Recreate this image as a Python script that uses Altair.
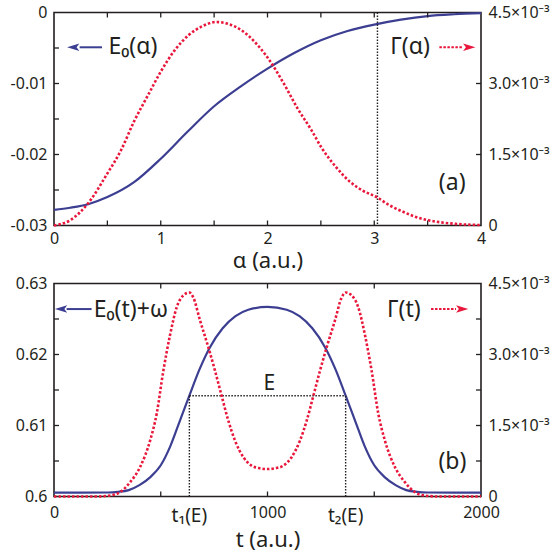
import altair as alt
import pandas as pd

# ---------------- panel (a) ----------------
alpha_E0 = [0.0, 0.15, 0.32, 0.5, 0.75, 1.0, 1.25, 1.5, 1.75, 2.0, 2.25, 2.5,
            2.75, 3.0, 3.25, 3.5, 3.75, 4.0]
E0_alpha = [-0.0278, -0.0275, -0.0270, -0.0260, -0.0239, -0.0206, -0.0168,
            -0.0132, -0.0104, -0.0079, -0.0057, -0.0039, -0.0026, -0.0017,
            -0.0010, -0.0005, -0.00025, -0.0001]

alpha_G = [0.0, 0.15, 0.32, 0.5, 0.63, 0.75, 0.88, 1.0, 1.13, 1.26, 1.38, 1.52,
           1.63, 1.76, 1.88, 2.0, 2.16, 2.28, 2.41, 2.51, 2.64, 2.77, 2.89,
           3.03, 3.14, 3.27, 3.39, 3.51, 3.76, 4.0]
Gamma_alpha = [0, 0.11, 0.47, 1.1, 1.6, 2.2, 2.75, 3.25, 3.7, 4.02, 4.2, 4.3,
               4.26, 4.12, 3.88, 3.55, 2.97, 2.48, 2.02, 1.63, 1.24, 0.93, 0.74,
               0.59, 0.43, 0.29, 0.18, 0.11, 0.035, 0.01]  # x 1e-3
alpha_star = [3.03]

# ---------------- panel (b) ----------------
t_E0 = [0, 250, 300, 350, 400, 450, 500, 545, 590, 634, 680, 730, 790, 850, 910,
        1000, 1090, 1150, 1210, 1270, 1320, 1366, 1410, 1455, 1500, 1550, 1600,
        1650, 1700, 1750, 2000]
E0w_t = [0.60055, 0.60056, 0.60065, 0.6009, 0.6016, 0.6027, 0.6044, 0.6071,
         0.6107, 0.6142, 0.6178, 0.6210, 0.6237, 0.6254, 0.6263, 0.6267,
         0.6263, 0.6254, 0.6237, 0.6210, 0.6178, 0.6142, 0.6107, 0.6071,
         0.6044, 0.6027, 0.6016, 0.6009, 0.60065, 0.60056, 0.60055]

t_G = [0, 200, 262, 309, 356, 403, 450, 481, 512, 543, 575, 606, 634, 653, 684,
       723, 754, 785, 816, 848, 887, 926, 960, 1000, 1040, 1074, 1113, 1152,
       1184, 1215, 1246, 1277, 1316, 1347, 1366, 1394, 1425, 1457, 1488, 1519,
       1550, 1597, 1644, 1691, 1738, 1800, 2000]
Gamma_t = [0, 0.0, 0.02, 0.09, 0.30, 0.62, 1.18, 1.75, 2.65, 3.40, 4.0, 4.25,
           4.31, 4.2, 3.72, 3.15, 2.66, 2.13, 1.61, 1.18, 0.83, 0.65, 0.6, 0.58,
           0.6, 0.65, 0.83, 1.18, 1.61, 2.13, 2.66, 3.15, 3.72, 4.2, 4.31, 4.25,
           4.0, 3.40, 2.65, 1.75, 1.18, 0.62, 0.30, 0.09, 0.02, 0.0, 0]  # x 1e-3
t_marks = [634, 1366]
t_labels = ["t\u2081(E)", "t\u2082(E)"]
E_level = 0.6142

W, H = 427, 213
BLUE = "#3c3e92"
RED = "#e8173b"
INK = "#231f20"
FONT = "Noto Sans"
LEFT_ARROW = "M-1,0L1,-0.62L0.55,0L1,0.62Z"
RIGHT_ARROW = "M1,0L-1,-0.62L-0.55,0L-1,0.62Z"


def xenc(dom, vals, title, lab_pad, title_pad):
    return alt.X("x:Q", scale=alt.Scale(domain=dom, nice=False, zero=False),
                 axis=alt.Axis(values=vals, title=title, labelPadding=lab_pad,
                               titlePadding=title_pad, labelFontSize=16,
                               titleFontSize=22, labelFlush=False,
                               labelOverlap=False, labelExpr="''+datum.value"))


def yleft(dom, vals):
    return alt.Y("y:Q", scale=alt.Scale(domain=dom, nice=False, zero=False),
                 axis=alt.Axis(values=vals, title=None, labelPadding=7,
                               labelFontSize=16, minExtent=38, maxExtent=38,
                               labelExpr="''+datum.value"))


def yright():
    return alt.Y("g:Q", scale=alt.Scale(domain=[0, 4.5], nice=False, zero=False),
                 axis=alt.Axis(orient="right", values=[0, 1.5, 3, 4.5], title=None,
                               labelPadding=7, labelFontSize=16, minExtent=60, maxExtent=60,
                               labelExpr="datum.value == 0 ? '0' : format(datum.value, '.1f') + '\u00d710\u207b\u00b3'"))


def ticks(xe, ye, xvals, yvals_l, yvals_r):
    out = []
    dx = pd.DataFrame({"x": xvals})
    out.append(alt.Chart(dx).mark_rule(color=INK, strokeWidth=1.3).encode(
        x=xe, y=alt.value(H), y2=alt.value(H - 5)))
    out.append(alt.Chart(dx).mark_rule(color=INK, strokeWidth=1.3).encode(
        x=xe, y=alt.value(0), y2=alt.value(5)))
    out.append(alt.Chart(pd.DataFrame({"y": yvals_l})).mark_rule(color=INK, strokeWidth=1.3).encode(
        y=ye, x=alt.value(0), x2=alt.value(5)))
    out.append(alt.Chart(pd.DataFrame({"y": yvals_r})).mark_rule(color=INK, strokeWidth=1.3).encode(
        y=ye, x=alt.value(W - 5), x2=alt.value(W)))
    return out


def label(xe, ye, x, y, text, size, align="left", color=INK):
    return alt.Chart(pd.DataFrame({"x": [x], "y": [y], "label": [text]})).mark_text(
        align=align, baseline="middle", fontSize=size, font=FONT, color=color
    ).encode(x=xe, y=ye, text="label:N")


def arrow(xe, ye, x1, x2, xh, y, color, shape, dash=None):
    rule_kw = dict(color=color, strokeWidth=2)
    if dash:
        rule_kw["strokeDash"] = dash
    line = alt.Chart(pd.DataFrame({"x": [x1], "x2": [x2], "y": [y]})).mark_rule(**rule_kw).encode(
        x=xe, x2=alt.X2("x2:Q"), y=ye)
    head = alt.Chart(pd.DataFrame({"x": [xh], "y": [y]})).mark_point(
        shape=shape, filled=True, size=150, color=color, opacity=1, strokeWidth=0
    ).encode(x=xe, y=ye)
    return [line, head]


# ---------- build panel (a) ----------
xa = xenc([0, 4], [0, 1, 2, 3, 4], "\u03b1 (a.u.)", 5, 4)
ya = yleft([-0.03, 0], [-0.03, -0.02, -0.01, 0])
ga = yright()

blue_a = alt.Chart(pd.DataFrame({"x": alpha_E0, "y": E0_alpha})).mark_line(
    color=BLUE, strokeWidth=2.2, interpolate="monotone").encode(x=xa, y=ya)
red_a = alt.Chart(pd.DataFrame({"x": alpha_G, "g": Gamma_alpha})).mark_line(
    color=RED, strokeWidth=2.6, strokeDash=[2.5, 2], interpolate="monotone").encode(x=xa, y=ga)
vline_a = alt.Chart(pd.DataFrame({"x": alpha_star})).mark_rule(
    color=INK, strokeWidth=1.4, strokeDash=[1.5, 1.5]).encode(x=xa)

left_a = alt.layer(
    blue_a, vline_a,
    *ticks(xa, ya, [0.5, 1, 1.5, 2, 2.5, 3, 3.5],
           [-0.025, -0.02, -0.015, -0.01, -0.005], [-0.02, -0.01]),
    *arrow(xa, ya, 0.24, 0.45, 0.18, -0.0049, BLUE, LEFT_ARROW),
    label(xa, ya, 0.51, -0.0049, "E\u2080(\u03b1)", 23),
    *arrow(xa, ya, 3.61, 3.83, 3.89, -0.0049, RED, RIGHT_ARROW, dash=[2.5, 1.5]),
    label(xa, ya, 3.15, -0.0049, "\u0393(\u03b1)", 23),
    label(xa, ya, 3.73, -0.0240, "(a)", 23, align="center"),
)
panel_a = alt.layer(left_a, red_a).resolve_scale(y="independent").properties(width=W, height=H)

# ---------- build panel (b) ----------
xb = xenc([0, 2000], [0, 1000, 2000], "t (a.u.)", 8, 9)
yb = yleft([0.6, 0.63], [0.6, 0.61, 0.62, 0.63])
gb = yright()

blue_b = alt.Chart(pd.DataFrame({"x": t_E0, "y": E0w_t})).mark_line(
    color=BLUE, strokeWidth=2.2, interpolate="monotone").encode(x=xb, y=yb)
red_b = alt.Chart(pd.DataFrame({"x": t_G, "g": Gamma_t})).mark_line(
    color=RED, strokeWidth=2.6, strokeDash=[2.5, 2], interpolate="monotone").encode(x=xb, y=gb)
hline_b = alt.Chart(pd.DataFrame({"x": [t_marks[0]], "x2": [t_marks[1]], "y": [E_level]})).mark_rule(
    color=INK, strokeWidth=1.4, strokeDash=[1.5, 1.5]).encode(x=xb, x2=alt.X2("x2:Q"), y=yb)
vlines_b = alt.Chart(pd.DataFrame({"x": t_marks, "y": [0.6, 0.6], "y2": [E_level, E_level]})).mark_rule(
    color=INK, strokeWidth=1.4, strokeDash=[1.5, 1.5]).encode(x=xb, y=yb, y2=alt.Y2("y2:Q"))
tlab_b = alt.Chart(pd.DataFrame({"x": t_marks, "label": t_labels})).mark_text(
    align="center", baseline="middle", fontSize=19, font=FONT, color=INK
).encode(x=xb, y=alt.value(H + 19), text="label:N")

left_b = alt.layer(
    blue_b, hline_b, vlines_b, tlab_b,
    *ticks(xb, yb, [500, 1000, 1500],
           [0.605, 0.61, 0.615, 0.62, 0.625], [0.605, 0.61, 0.615, 0.62, 0.625]),
    *arrow(xb, yb, 59, 176, 33, 0.6264, BLUE, LEFT_ARROW),
    label(xb, yb, 186, 0.6263, "E\u2080(t)+\u03c9", 23),
    *arrow(xb, yb, 1766, 1883, 1912, 0.6264, RED, RIGHT_ARROW, dash=[2.5, 1.5]),
    label(xb, yb, 1560, 0.6263, "\u0393(t)", 23),
    label(xb, yb, 1009, 0.6158, "E", 21, align="center"),
    label(xb, yb, 1866, 0.6049, "(b)", 23, align="center"),
)
panel_b = alt.layer(left_b, red_b).resolve_scale(y="independent").properties(width=W, height=H)

chart = alt.vconcat(panel_a, panel_b, spacing=2).properties(
    padding={"left": 9, "top": 3.5, "right": 2, "bottom": 2}
).configure(font=FONT).configure_view(stroke=INK, strokeWidth=1.6).configure_axis(
    labelFont=FONT, titleFont=FONT, labelColor=INK, titleColor=INK,
    titleFontWeight="normal", domain=False, ticks=False, grid=False)

chart.save("out.html", embed_options={"renderer": "svg", "actions": False})
